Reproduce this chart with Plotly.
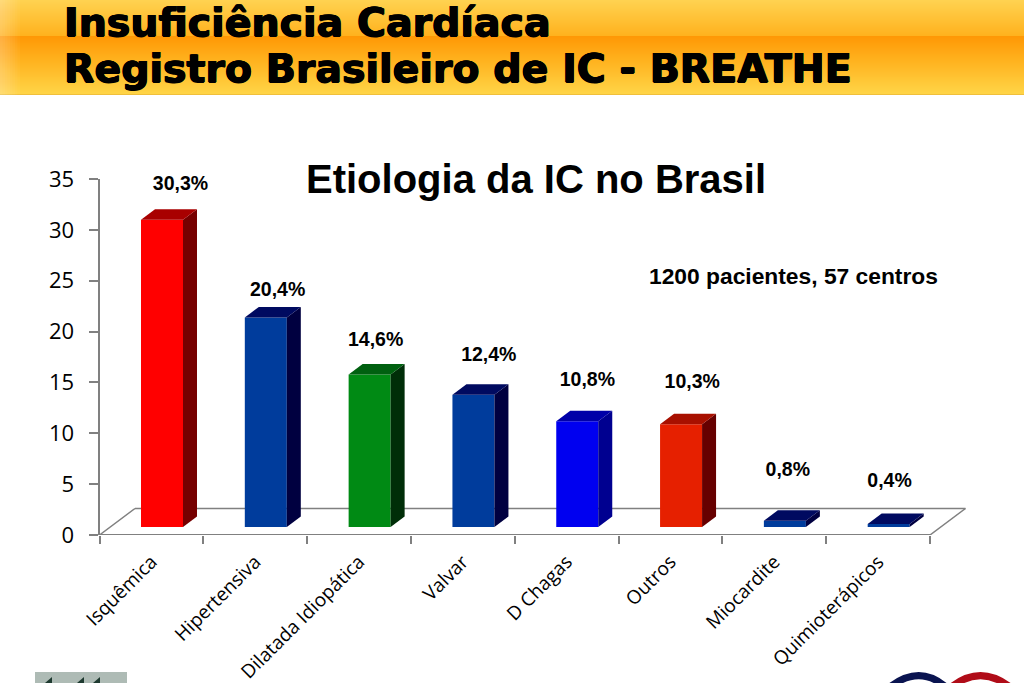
import plotly.graph_objects as go

# ---------- data ----------
categories = ["Isquêmica", "Hipertensiva", "Dilatada Idiopática", "Valvar",
              "D Chagas", "Outros", "Miocardite", "Quimioterápicos"]
bar_heights = [30.2, 20.6, 15.0, 13.0, 10.4, 10.1, 0.62, 0.3]
value_labels = ["30,3%", "20,4%", "14,6%", "12,4%", "10,8%", "10,3%", "0,8%", "0,4%"]
front_colors = ["#FF0000", "#003C9C", "#008A14", "#003C9C", "#0000F0", "#E62000", "#003C9C", "#003C9C"]
top_colors = ["#A80000", "#000A60", "#006010", "#000A60", "#0000A8", "#A81000", "#000A60", "#000A60"]
side_colors = ["#760000", "#000040", "#002E08", "#000040", "#000090", "#660000", "#000040", "#000040"]
y_ticks = [0, 5, 10, 15, 20, 25, 30, 35]
label_dx = [0.28, 0.216, 0.16, 0.25, 0.20, 0.21, 0.13, 0.11]
label_dy = [3.4, 2.6, 3.3, 3.8, 3.9, 4.0, 4.9, 4.1]

# ---------- geometry of the fake 3D box (axis units) ----------
W, H = 1024, 683
AX_L, AX_R, AX_B, AX_T = 99.5, 930.0, 535.0, 179.0
PX_X = (AX_R - AX_L) / len(categories)
PX_Y = (AX_B - AX_T) / 35.0
X_MAX = (975 - AX_L) / PX_X
BAR_L = 41.5 / PX_X
BAR_W = 42.0 / PX_X
BASE = 8.0 / PX_Y
DX = 14.0 / PX_X
DY = 10.5 / PX_Y
FLOOR_DX = 35.5 / PX_X
FLOOR_DY = 26.5 / PX_Y

fig = go.Figure()
centers = [i + 0.5 for i in range(len(categories))]

fig.add_trace(go.Bar(
    x=centers, y=bar_heights, base=[BASE] * len(categories),
    width=[BAR_W] * len(categories), offset=[BAR_L - 0.5] * len(categories),
    marker=dict(color=front_colors, line=dict(width=0)), hoverinfo="skip", showlegend=False))

for i, h in enumerate(bar_heights):
    x0 = i + BAR_L
    x1 = x0 + BAR_W
    y0 = BASE
    y1 = BASE + h
    fig.add_trace(go.Scatter(
        x=[x1, x1 + DX, x1 + DX, x1, x1], y=[y0, y0 + DY, y1 + DY, y1, y0],
        mode="lines", fill="toself", fillcolor=side_colors[i], line=dict(width=0),
        hoverinfo="skip", showlegend=False))
    fig.add_trace(go.Scatter(
        x=[x0, x0 + DX, x1 + DX, x1, x0], y=[y1, y1 + DY, y1 + DY, y1, y1],
        mode="lines", fill="toself", fillcolor=top_colors[i], line=dict(width=0),
        hoverinfo="skip", showlegend=False))

fig.add_trace(go.Scatter(
    x=[i + 0.5 + d for i, d in enumerate(label_dx)],
    y=[h + BASE + d for h, d in zip(bar_heights, label_dy)],
    mode="text", text=[f"<b>{t}</b>" for t in value_labels], textposition="middle center",
    textfont=dict(family="Liberation Sans", size=19.5, color="#000000"),
    hoverinfo="skip", showlegend=False, cliponaxis=False))

AXIS_GREY = "#808080"
shapes = []


def px(x0, y0, x1, y1, **kw):
    return dict(xref="paper", yref="paper", x0=x0 / W, x1=x1 / W, y0=1 - y0 / H, y1=1 - y1 / H, **kw)


# header band
header_stops = [(0, (255, 210, 80)), (35, (255, 178, 30)), (36, (255, 152, 5)),
                (60, (255, 178, 30)), (93, (255, 212, 70)), (95, (226, 170, 50))]
for a, b in zip(header_stops, header_stops[1:]):
    for y in range(a[0], b[0]):
        t = (y - a[0]) / (b[0] - a[0])
        c = [round(a[1][k] + (b[1][k] - a[1][k]) * t) for k in range(3)]
        shapes.append(px(0, y, W, y + 1, type="rect", layer="below",
                         fillcolor=f"rgb({c[0]},{c[1]},{c[2]})", line=dict(width=0)))
for k in range(8):
    shapes.append(px(0, 0, 2.5 * (8 - k), 95, type="rect", layer="below",
                     fillcolor="rgba(255,255,255,0.035)", line=dict(width=0)))

# floor of the 3D box, in axis units
floor = dict(type="line", xref="x", yref="y", layer="below", line=dict(color=AXIS_GREY, width=1.5))
shapes.append(dict(floor, x0=0, y0=0, x1=FLOOR_DX, y1=FLOOR_DY))
shapes.append(dict(floor, x0=FLOOR_DX, y0=FLOOR_DY, x1=8 + FLOOR_DX, y1=FLOOR_DY))
shapes.append(dict(floor, x0=8, y0=0, x1=8 + FLOOR_DX, y1=FLOOR_DY))
shapes.append(dict(floor, x0=0, y0=0, x1=8, y1=0, line=dict(color=AXIS_GREY, width=2)))

# logos cut off by the bottom edge
shapes.append(px(35, 672, 127, 683, type="rect", fillcolor="#AEBBB5", line=dict(width=0)))
for lx in (45, 77, 93):
    shapes.append(dict(type="path", xref="paper", yref="paper", fillcolor="#1E3A30", line=dict(width=0),
                       path=f"M {lx / W} 0 L {(lx + 7) / W} 0 L {(lx + 7) / W} {6 / H} Z"))
for (xa, ya, xc, yc, xb, yb), col in [((885, 691, 918, 662, 947, 688), "#0A1450"),
                                      ((950, 688, 982, 662, 1015, 691), "#B00C18")]:
    shapes.append(dict(type="path", xref="paper", yref="paper", line=dict(color=col, width=7),
                       path=f"M {xa / W} {1 - ya / H} Q {xc / W} {1 - yc / H} {xb / W} {1 - yb / H}"))


def note(text, x, y, size, family, shadow="none"):
    return dict(text=f"<b>{text}</b>", xref="paper", yref="paper", x=x / W, y=1 - y / H,
                xanchor="left", yanchor="middle", showarrow=False,
                font=dict(family=family, size=size, color="#000000", shadow=shadow))


HEAVY = "0.7px 0 0 #000, -0.7px 0 0 #000, 0 0.5px 0 #000, 0 -0.5px 0 #000"
annotations = [
    note("Insuficiência Cardíaca", 62, 22, 39.5, "DejaVu Sans", HEAVY),
    note("Registro Brasileiro de IC - BREATHE", 62, 68, 39.5, "DejaVu Sans", HEAVY),
    note("Etiologia da IC no Brasil", 304, 179, 40, "Liberation Sans"),
    note("1200 pacientes, 57 centros", 647, 276, 22.8, "Liberation Sans"),
]

fig.update_layout(
    width=W, height=H, autosize=False, margin=dict(l=0, r=0, t=0, b=0),
    paper_bgcolor="#FFFFFF", plot_bgcolor="rgba(0,0,0,0)", showlegend=False,
    shapes=shapes, annotations=annotations, barmode="overlay",
    xaxis=dict(
        automargin=False,
        domain=[AX_L / W, (AX_L + X_MAX * PX_X) / W], range=[0, X_MAX], showgrid=False, zeroline=False,
        showline=False, tickmode="array", tickvals=centers, ticktext=categories, tickangle=-45,
        ticks="", tickfont=dict(family="Open Sans", size=19, color="#000000"), ticklabelstandoff=11,
        minor=dict(tickmode="array", tickvals=list(range(len(categories) + 1)), ticks="outside", ticklen=8,
                   tickwidth=2, tickcolor=AXIS_GREY, showgrid=False)),
    yaxis=dict(
        automargin=False,
        domain=[1 - AX_B / H, 1 - AX_T / H], range=[0, 35], showgrid=False, zeroline=False,
        showline=True, linecolor=AXIS_GREY, linewidth=2, tickmode="array", tickvals=y_ticks,
        ticks="outside", ticklen=9, tickwidth=2, tickcolor=AXIS_GREY, ticklabelstandoff=10,
        tickfont=dict(family="Open Sans", size=22, color="#000000")),
)

fig.write_html("out.html", config=dict(displayModeBar=False),
               post_script="document.body.style.margin='0';document.body.style.overflow='hidden';")
